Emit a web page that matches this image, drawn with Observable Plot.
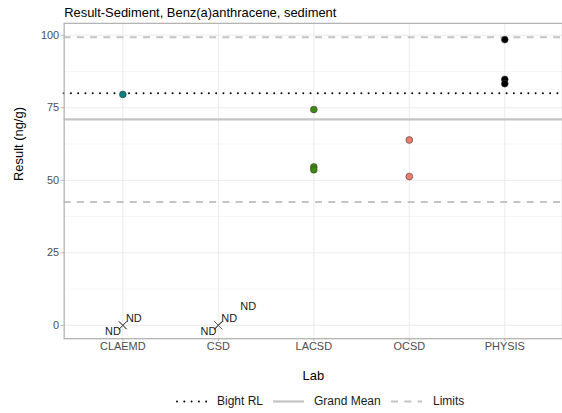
<!DOCTYPE html>
<html>
<head>
<meta charset="utf-8">
<script src="https://cdn.jsdelivr.net/npm/d3@7"></script>
<script src="https://cdn.jsdelivr.net/npm/@observablehq/plot@0.6"></script>
<style>
  html, body { margin: 0; padding: 0; background: #fff; overflow: hidden; }
  body { font-family: "Liberation Sans", Arial, sans-serif; }
  #wrap { position: relative; width: 562px; height: 413px; overflow: hidden; }
  #legend { position: absolute; left: 0; top: 392px; width: 562px; height: 21px; font-size: 12px; color: #1a1a1a; }
  #legend .it { position: absolute; top: 0; height: 21px; line-height: 21px; white-space: nowrap; }
  #legend svg { position: absolute; top: 0; }
</style>
</head>
<body>
<div id="wrap"><div id="chart"></div><div id="legend"></div></div>
<script>
// ---- data ----
const titleText = "Result-Sediment, Benz(a)anthracene, sediment";
const labs = ["CLAEMD", "CSD", "LACSD", "OCSD", "PHYSIS"];
const labColors = ["#0f7f7d", "#9a9a9a", "#3f8a0e", "#f07a6b", "#000000"];

const resultLab = ["CLAEMD", "LACSD", "LACSD", "LACSD", "OCSD", "OCSD", "PHYSIS", "PHYSIS", "PHYSIS"];
const resultValue = [79.6, 74.4, 54.6, 53.6, 63.9, 51.3, 98.5, 84.8, 83.3];

const ndLab = ["CLAEMD", "CLAEMD", "CSD", "CSD", "CSD"];
const ndValue = [0, 0, 0, 0, 0];
const ndLabel = ["ND", "ND", "ND", "ND", "ND"];
const ndOrder = [0, 1, 0, 1, 2];

const bightRL = [80];
const grandMean = [71.0];
const limits = [42.5, 99.3];

const yTicks = [0, 25, 50, 75, 100];
const yMinor = [12.5, 37.5, 62.5, 87.5];
const yDomain = [-4.6, 104.1];

const legendNames = ["Bight RL", "Grand Mean", "Limits"];

// ---- tables ----
const results = resultLab.map((lab, i) => ({lab, value: resultValue[i]}));
const nds = ndLab.map((lab, i) => ({lab, value: ndValue[i], label: ndLabel[i], k: ndOrder[i]}));

const font = '"Liberation Sans", Arial, sans-serif';

const plot = Plot.plot({
  width: 565,
  height: 392,
  marginTop: 23,
  marginBottom: 52,
  marginLeft: 64,
  marginRight: 0,
  style: {fontFamily: font, background: "#fff"},
  x: {type: "point", domain: labs, padding: 0.6, label: null},
  y: {domain: yDomain, label: null},
  color: {domain: labs, range: labColors},
  marks: [
    Plot.ruleY(yMinor, {stroke: "#f4f4f4", strokeWidth: 0.8}),
    Plot.ruleY(yTicks, {stroke: "#ebebeb", strokeWidth: 1}),
    Plot.ruleX(labs, {stroke: "#ebebeb", strokeWidth: 1}),
    Plot.ruleY(limits, {stroke: "#c4c4c4", strokeWidth: 2, strokeDasharray: "7,6.3"}),
    Plot.ruleY(grandMean, {stroke: "#c4c4c4", strokeWidth: 2.2}),
    Plot.ruleY(bightRL, {stroke: "#000", strokeWidth: 2, strokeDasharray: "0,7.3", strokeLinecap: "round"}),
    Plot.frame({stroke: "#b3b3b3", strokeWidth: 1.3}),
    Plot.dot(results, {x: "lab", y: "value", fill: "lab", stroke: "#3a3a3a", strokeWidth: 0.6, r: 3.4}),
    Plot.dot(nds, {x: "lab", y: "value", symbol: "times", stroke: "#555", strokeWidth: 1, r: 3.6}),
    Plot.text(nds.filter(d => d.k === 0), {x: "lab", y: "value", text: "label", dx: -10, dy: 6.3, fontSize: 11, fill: "#1a1a1a"}),
    Plot.text(nds.filter(d => d.k === 1), {x: "lab", y: "value", text: "label", dx: 11, dy: -6.7, fontSize: 11, fill: "#1a1a1a"}),
    Plot.text(nds.filter(d => d.k === 2), {x: "lab", y: "value", text: "label", dx: 30, dy: -19.4, fontSize: 11, fill: "#1a1a1a"}),
    // axes: ticks and labels
    Plot.axisY(yTicks, {tickSize: 3, tickFormat: () => "", color: "#b3b3b3", label: null}),
    Plot.axisY(yTicks, {tickSize: 0, tickPadding: 5, color: "#4d4d4d", fontSize: 11, label: null}),
    Plot.axisX(labs, {tickSize: 3, tickFormat: () => "", color: "#b3b3b3", label: null}),
    Plot.axisX(labs, {tickSize: 0, tickPadding: 4, color: "#4d4d4d", fontSize: 11, label: null}),
    // titles
    Plot.text([titleText], {frameAnchor: "top-left", dy: -11, lineAnchor: "middle", textAnchor: "start", fontSize: 13, fill: "#000"}),
    Plot.text(["Lab"], {frameAnchor: "bottom", dy: 37, lineAnchor: "middle", fontSize: 13, fill: "#000"}),
    Plot.text(["Result (ng/g)"], {frameAnchor: "left", dx: -46, rotate: -90, lineAnchor: "middle", fontSize: 13, fill: "#000"})
  ]
});
document.getElementById("chart").appendChild(plot);

// ---- legend ----
const legend = document.getElementById("legend");
const keyStyles = [
  {stroke: "#000", width: 2, dash: "0,7.3", cap: "round"},
  {stroke: "#c4c4c4", width: 2.2, dash: null, cap: "butt"},
  {stroke: "#c4c4c4", width: 2, dash: "7,6.3", cap: "butt"}
];
const keyLeft = [176, 273, 391];
const textLeft = [217, 314, 433];
legendNames.forEach((name, i) => {
  const s = keyStyles[i];
  const svg = document.createElementNS("http://www.w3.org/2000/svg", "svg");
  svg.setAttribute("width", 31);
  svg.setAttribute("height", 21);
  svg.style.left = keyLeft[i] + "px";
  const line = document.createElementNS("http://www.w3.org/2000/svg", "line");
  line.setAttribute("x1", s.cap === "round" ? 1 : 0);
  line.setAttribute("x2", 31);
  line.setAttribute("y1", 9.5);
  line.setAttribute("y2", 9.5);
  line.setAttribute("stroke", s.stroke);
  line.setAttribute("stroke-width", s.width);
  line.setAttribute("stroke-linecap", s.cap);
  if (s.dash) line.setAttribute("stroke-dasharray", s.dash);
  svg.appendChild(line);
  legend.appendChild(svg);
  const t = document.createElement("span");
  t.className = "it";
  t.style.left = textLeft[i] + "px";
  t.style.top = "-1px";
  t.textContent = name;
  legend.appendChild(t);
});
</script>
</body>
</html>
